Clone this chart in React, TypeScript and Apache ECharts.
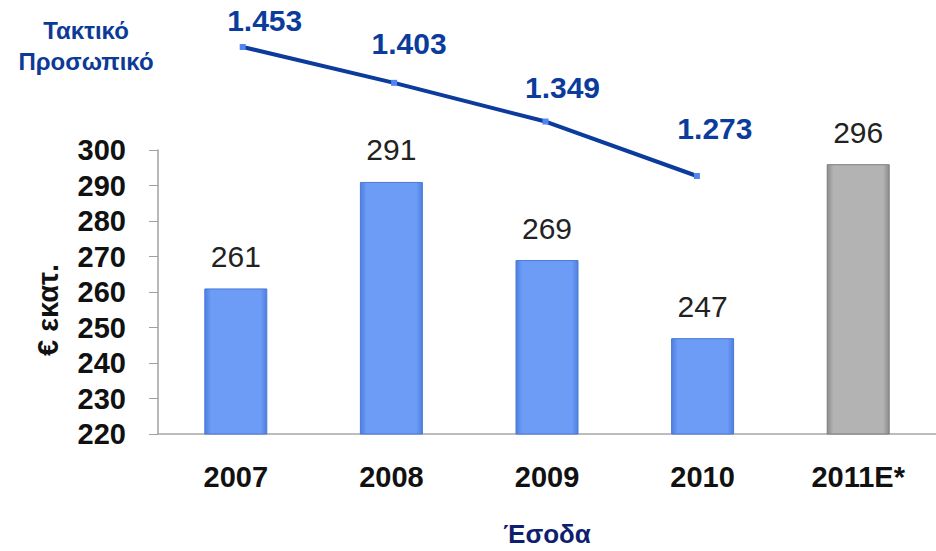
import React, { useEffect, useRef } from "react";
import * as echarts from "echarts";

const categories = ["2007", "2008", "2009", "2010", "2011E*"];
const revenue = [261, 291, 269, 247, 296];
const staffYears = ["2007", "2008", "2009", "2010"];
const staff = [1453, 1403, 1349, 1273];
const staffLabels = ["1.453", "1.403", "1.349", "1.273"];
const yTicks = { min: 220, max: 300, interval: 10 };

const labelOffsets = [
  [22, 2],
  [15, -10],
  [17, -5],
  [18, -19],
];

const FONT = "'Liberation Sans', Arial, sans-serif";

export default function App() {
  const ref = useRef<HTMLDivElement>(null);
  useEffect(() => {
    if (!ref.current) return;
    const chart = echarts.init(ref.current, null, { renderer: "svg" });
    const blue = {
      type: "linear",
      x: 0,
      y: 0,
      x2: 1,
      y2: 0,
      colorStops: [
        { offset: 0, color: "#4f7fe0" },
        { offset: 0.1, color: "#6c9cf6" },
        { offset: 0.9, color: "#6c9cf6" },
        { offset: 1, color: "#4f7fe0" },
      ],
    };
    const gray = {
      type: "linear",
      x: 0,
      y: 0,
      x2: 1,
      y2: 0,
      colorStops: [
        { offset: 0, color: "#8c8c8c" },
        { offset: 0.1, color: "#b3b3b3" },
        { offset: 0.9, color: "#b3b3b3" },
        { offset: 1, color: "#8c8c8c" },
      ],
    };
    chart.setOption({
      animation: false,
      textStyle: { fontFamily: FONT },
      grid: [
        { left: 158, top: 150, width: 784, height: 284 },
        { left: 167, top: 47, width: 757, height: 129 },
      ],
      xAxis: [
        {
          type: "category",
          gridIndex: 0,
          data: categories,
          axisLine: { lineStyle: { color: "#a6a6a6", width: 1.5 } },
          axisTick: { show: false },
          axisLabel: {
            color: "#111",
            fontSize: 29,
            fontWeight: "bold",
            fontFamily: FONT,
            margin: 28,
          },
        },
        {
          type: "category",
          gridIndex: 1,
          data: categories,
          show: false,
        },
      ],
      yAxis: [
        {
          type: "value",
          gridIndex: 0,
          min: yTicks.min,
          max: yTicks.max,
          interval: yTicks.interval,
          axisLine: { show: true, lineStyle: { color: "#a0a0a0", width: 1.5 } },
          axisTick: { show: true, length: 9, lineStyle: { color: "#a0a0a0" } },
          splitLine: { show: false },
          axisLabel: {
            color: "#111",
            fontSize: 29,
            fontWeight: "bold",
            fontFamily: FONT,
            margin: 32,
          },
        },
        {
          type: "value",
          gridIndex: 1,
          min: 1273,
          max: 1453,
          show: false,
          splitLine: { show: false },
        },
      ],
      series: [
        {
          type: "bar",
          xAxisIndex: 0,
          yAxisIndex: 0,
          barWidth: 63,
          data: revenue.map((v, i) => ({
            value: v,
            itemStyle: {
              color: i === revenue.length - 1 ? gray : blue,
              borderColor: i === revenue.length - 1 ? "#7d7d7d" : "#4a78d6",
              borderWidth: 1,
            },
          })),
          label: {
            show: true,
            position: "top",
            distance: 17,
            color: "#222",
            fontSize: 30,
            fontFamily: FONT,
          },
        },
        {
          type: "line",
          xAxisIndex: 1,
          yAxisIndex: 1,
          data: staff.map((v, i) => ({
            value: v,
            label: { offset: labelOffsets[i] },
          })),
          symbol: "rect",
          symbolSize: 6,
          itemStyle: { color: "#4f86f0" },
          lineStyle: { color: "#0c3b9e", width: 4 },
          clip: false,
          label: {
            show: true,
            position: "top",
            distance: 11,
            color: "#0b3c9c",
            fontSize: 30,
            fontWeight: "bold",
            fontFamily: FONT,
            formatter: (p: any) => staffLabels[p.dataIndex],
          },
        },
      ],
      graphic: [
        {
          type: "text",
          x: 86,
          y: 15,
          style: {
            text: "Τακτικό\nΠροσωπικό",
            textAlign: "center",
            textVerticalAlign: "top",
            fill: "#0d3a96",
            font: `bold 24px ${FONT}`,
            lineHeight: 31,
          },
        },
        {
          type: "text",
          x: 48,
          y: 310,
          rotation: Math.PI / 2,
          style: {
            text: "€ εκατ.",
            textAlign: "center",
            textVerticalAlign: "middle",
            fill: "#111",
            font: `bold 29px ${FONT}`,
          },
        },
        {
          type: "text",
          x: 547,
          y: 534,
          style: {
            text: "Έσοδα",
            textAlign: "center",
            textVerticalAlign: "middle",
            fill: "#0f1f70",
            font: `bold 26px ${FONT}`,
          },
        },
      ],
    });
    return () => chart.dispose();
  }, []);
  return (
    <div
      ref={ref}
      style={{ position: "fixed", left: 0, top: 0, width: 936, height: 551, background: "#fff" }}
    />
  );
}
